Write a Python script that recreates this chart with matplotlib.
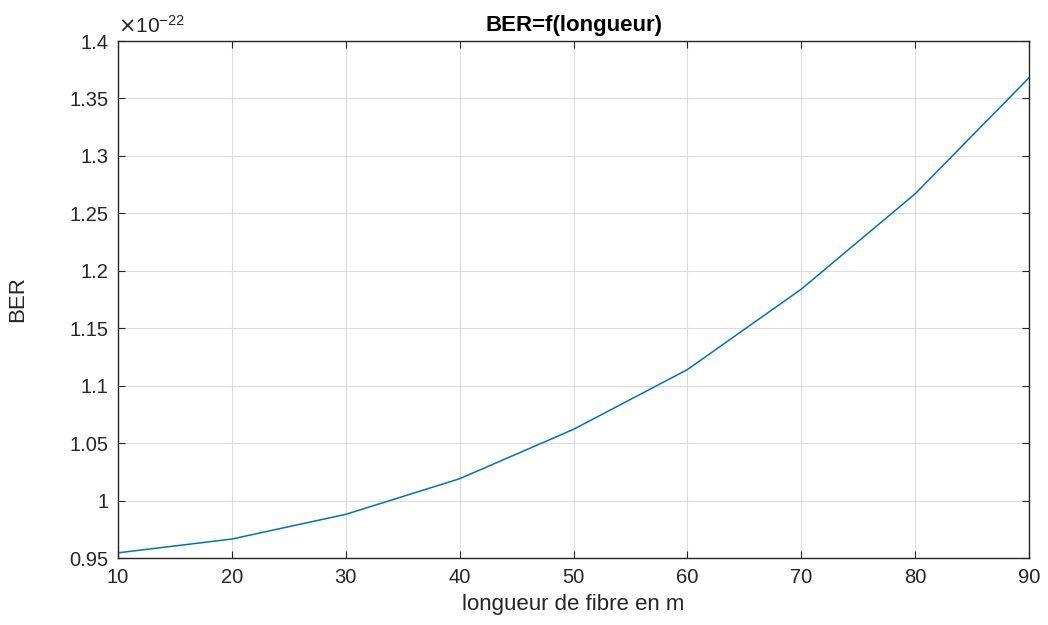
import matplotlib
matplotlib.use("Agg")
from matplotlib import pyplot as plt
from matplotlib.ticker import FuncFormatter
import numpy as np

plt.rcParams['font.family'] = ['Liberation Sans', 'DejaVu Sans']

# fibre length (m) and BER (in units of 1e-22)
longueur = [10, 20, 30, 40, 50, 60, 70, 80, 90]
ber = [0.9545, 0.9665, 0.988, 1.019, 1.062, 1.114, 1.184, 1.267, 1.368]
xticks = [10, 20, 30, 40, 50, 60, 70, 80, 90]
yticks = [0.95, 1.0, 1.05, 1.1, 1.15, 1.2, 1.25, 1.3, 1.35, 1.4]

fig = plt.figure(figsize=(10.48, 6.25), dpi=100)
ax = fig.add_axes([0.1126, 0.1072, 0.8693, 0.8272])

ax.plot(longueur, ber, color='#0072BD', lw=1.1)

ax.set_xlim(10, 90)
ax.set_ylim(0.95, 1.4)
ax.set_xticks(xticks)
ax.set_yticks(yticks)
ax.yaxis.set_major_formatter(FuncFormatter(lambda v, p: '%g' % round(v, 4)))
ax.tick_params(labelsize=14.5, colors='#262626', direction='in', length=5,
               top=True, right=True, width=0.8, pad=7)
ax.grid(True, color='#dcdcdc', lw=0.8)
ax.set_axisbelow(True)
for s in ax.spines.values():
    s.set_color('#262626')
    s.set_linewidth(1.0)

ax.set_title('BER=f(longueur)', fontsize=16, fontweight='bold', pad=7)
ax.set_xlabel('longueur de fibre en m', fontsize=16, color='#262626')
ax.set_ylabel('BER', fontsize=16, color='#262626')
ax.xaxis.set_label_coords(0.5, -0.07)
ax.yaxis.set_label_coords(-0.099, 0.5)
ax.text(0.0, 1.008, r'$\times\mathregular{10^{-22}}$', transform=ax.transAxes,
        fontsize=15, color='#262626', va='bottom', ha='left')

fig.savefig('out.png', dpi=100)
